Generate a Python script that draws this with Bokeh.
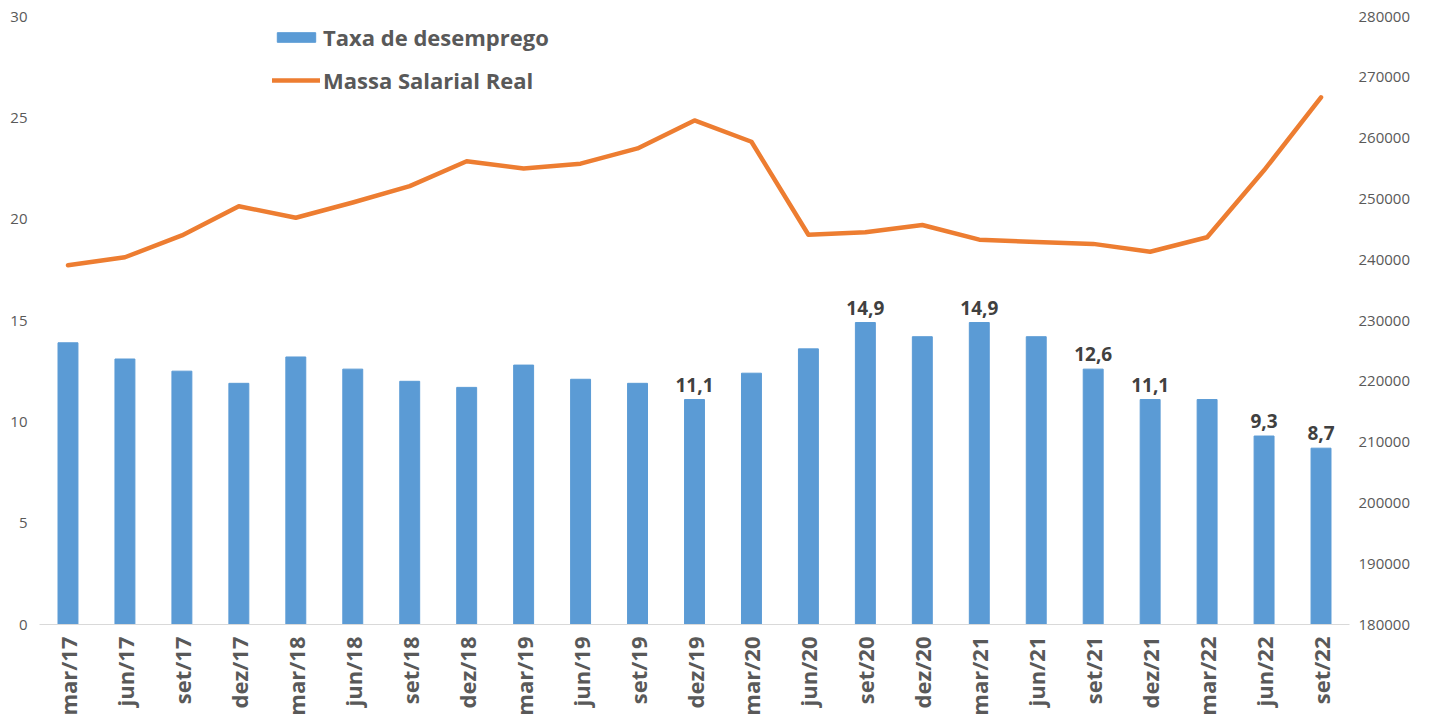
from bokeh.plotting import figure
from bokeh.models import Range1d, LinearAxis, Legend, LegendItem, ColumnDataSource
from bokeh.embed import file_html
from bokeh.resources import INLINE
from bokeh.core.properties import value
import math

periods = ["mar/17", "jun/17", "set/17", "dez/17", "mar/18", "jun/18", "set/18", "dez/18",
           "mar/19", "jun/19", "set/19", "dez/19", "mar/20", "jun/20", "set/20", "dez/20",
           "mar/21", "jun/21", "set/21", "dez/21", "mar/22", "jun/22", "set/22"]
taxa_desemprego = [13.9, 13.1, 12.5, 11.9, 13.2, 12.6, 12.0, 11.7,
                   12.8, 12.1, 11.9, 11.1, 12.4, 13.6, 14.9, 14.2,
                   14.9, 14.2, 12.6, 11.1, 11.1, 9.3, 8.7]
massa_salarial = [239100, 240400, 244000, 248800, 246900, 249400, 252100, 256200,
                  255000, 255800, 258300, 262900, 259400, 244100, 244500, 245700,
                  243300, 242900, 242600, 241300, 243700, 254700, 266700]
bar_labels = ["", "", "", "", "", "", "", "",
              "", "", "", "11,1", "", "", "14,9", "",
              "14,9", "", "12,6", "11,1", "", "9,3", "8,7"]

FONT = "Open Sans"
BLUE = "#5B9BD5"
ORANGE = "#ED7D31"
GREY = "#595959"

src = ColumnDataSource(dict(x=periods, taxa=taxa_desemprego, massa=massa_salarial, lab=bar_labels))

p = figure(x_range=periods, y_range=Range1d(0, 30), frame_width=1310, frame_height=608,
           output_backend="svg", toolbar_location=None,
           min_border_top=16, min_border_left=39, min_border_right=4, min_border_bottom=0)
p.extra_y_ranges = {"massa": Range1d(180000, 280000)}

bars = p.vbar(x="x", top="taxa", width=0.35, source=src, color=BLUE)
line = p.line(x="x", y="massa", source=src, y_range_name="massa", line_color=ORANGE,
              line_width=4.5, line_join="round", line_cap="round")
p.text(x="x", y="taxa", text="lab", source=src, text_align="center", text_baseline="bottom",
       y_offset=-8, text_font=value(FONT), text_font_style="bold", text_font_size="19px",
       text_color="#404040")

right = LinearAxis(y_range_name="massa")
p.add_layout(right, "right")

for ax in (p.yaxis[0], right):
    ax.axis_line_color = None
    ax.major_tick_line_color = None
    ax.minor_tick_line_color = None
    ax.major_label_text_font = FONT
    ax.major_label_text_font_size = "15px"
    ax.major_label_text_color = GREY
p.yaxis[0].ticker = [0, 5, 10, 15, 20, 25, 30]
p.yaxis[0].major_label_standoff = 6
right.ticker = list(range(180000, 280001, 10000))
right.major_label_standoff = 3
right.formatter.use_scientific = False

xa = p.xaxis[0]
xa.axis_line_color = "#D9D9D9"
xa.axis_line_width = 1
xa.major_tick_line_color = None
xa.minor_tick_line_color = None
xa.major_label_orientation = math.pi / 2
xa.major_label_text_font = FONT
xa.major_label_text_font_size = "22px"
xa.major_label_text_font_style = "bold"
xa.major_label_text_color = GREY
xa.major_label_standoff = 6

p.xgrid.grid_line_color = None
p.ygrid.grid_line_color = None
p.outline_line_color = None
p.x_range.range_padding = 0

legend = Legend(items=[LegendItem(label="Taxa de desemprego", renderers=[bars]),
                       LegendItem(label="Massa Salarial Real", renderers=[line])],
                location=(233, 529))
legend.border_line_color = None
legend.background_fill_alpha = 0
legend.padding = 0
legend.margin = 0
legend.spacing = 13
legend.glyph_width = 48
legend.glyph_height = 12
legend.label_height = 30
legend.label_standoff = 3
legend.label_text_font = FONT
legend.label_text_font_size = "22px"
legend.label_text_font_style = "bold"
legend.label_text_color = GREY
p.add_layout(legend, "center")

open("out.html", "w").write(file_html(p, INLINE))
